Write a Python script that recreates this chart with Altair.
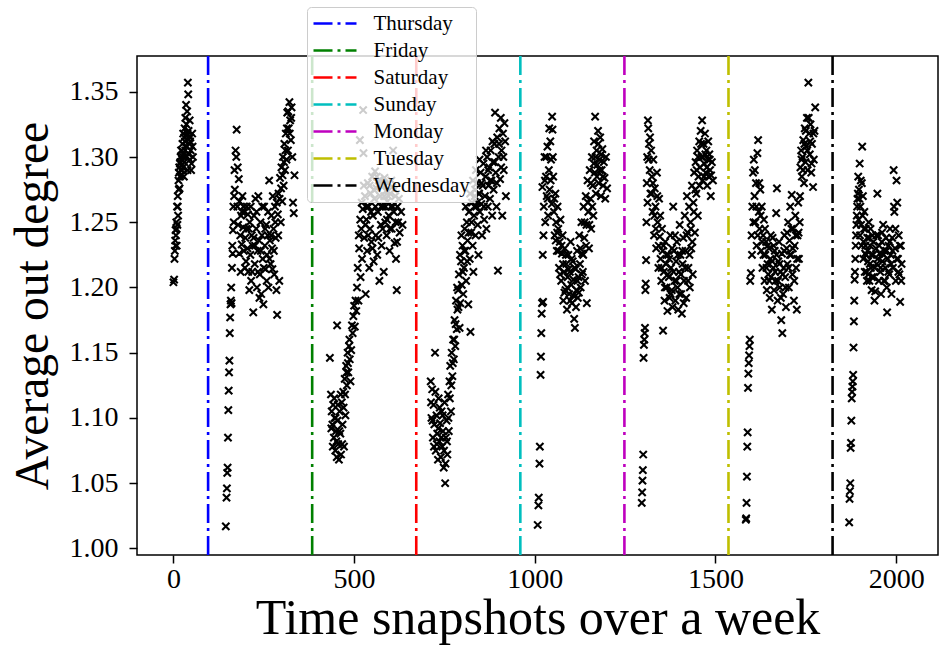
import altair as alt
import pandas as pd

# ---- scatter data: (time snapshot, average out degree) ----
seg_1 = [(0,1.204),(2,1.206),(4,1.228),(5,1.236),(6,1.244),(7,1.240),(8,1.250),(9,1.232),(10,1.262),(11,1.248),
         (12,1.270),(13,1.255),(14,1.282),(15,1.288),(16,1.292),(17,1.276),(18,1.285),(19,1.296),(20,1.300),(21,1.290),
         (22,1.286),(23,1.305),(24,1.298),(25,1.310),(26,1.292),(27,1.318),(28,1.302),(29,1.285),(30,1.296),(31,1.322),
         (32,1.312),(33,1.330),(34,1.300),(35,1.340),(36,1.316),(37,1.308),(38,1.335),(39,1.290),(40,1.357),(41,1.348),
         (42,1.320),(44,1.310),(45,1.328),(46,1.298),(47,1.315),(48,1.305),(50,1.295),(52,1.318),(54,1.300)]
seg_1b = [(3,1.222),(6,1.232),(9,1.245),(12,1.262),(15,1.275),(18,1.295),(21,1.305),(24,1.290),(27,1.300),(30,1.315),
          (33,1.305),(36,1.325),(39,1.318),(43,1.302),(46,1.312),(49,1.290),(53,1.308)]

seg_2 = [(145,1.017),(147,1.039),(148,1.046),(149,1.058),(150,1.062),(151,1.085),(152,1.106),(153,1.121),(154,1.135),
         (155,1.144),(156,1.165),(157,1.177),(158,1.187),(159,1.190),(160,1.200),(161,1.188),(162,1.215),(163,1.232),
         (164,1.226),(165,1.244),(166,1.262),(167,1.250),(168,1.270),(169,1.290),(170,1.275),(172,1.305),(174,1.300),
         (175,1.321),(177,1.262),(179,1.248),(181,1.283),(183,1.266),(185,1.240),(187,1.255),(189,1.233),(191,1.270),
         (193,1.246),(195,1.228),(197,1.258),(199,1.238),(201,1.220),(203,1.262),(205,1.230),(207,1.212),(209,1.245),
         (211,1.250),(213,1.225),(215,1.205),(217,1.240),(219,1.232),(221,1.181),(223,1.255),(225,1.218),(227,1.268),
         (229,1.245),(231,1.200),(233,1.228),(235,1.270),(237,1.236),(239,1.210),(241,1.250),(243,1.195),(245,1.240),
         (247,1.222),(249,1.187),(251,1.262),(253,1.232),(255,1.214),(257,1.248),(259,1.225),(261,1.240),(263,1.200),
         (265,1.282),(267,1.236),(269,1.218),(271,1.255),(273,1.230),(275,1.270),(277,1.245),(279,1.210),(281,1.262),
         (283,1.238),(285,1.198),(287,1.179),(289,1.256),(291,1.272),(293,1.205),(295,1.284),(297,1.250),(299,1.292),
         (301,1.266),(303,1.300),(305,1.278),(307,1.310),(309,1.290),(311,1.318),(313,1.298),(315,1.334),(317,1.305),
         (319,1.322),(321,1.342),(323,1.328),(325,1.313),(327,1.338),(329,1.300),(331,1.265),(333,1.257),(335,1.286)]
seg_2b = [(178,1.292),(182,1.226),(186,1.212),(190,1.258),(194,1.262),(198,1.215),(202,1.245),(206,1.256),(210,1.198),
          (214,1.262),(218,1.212),(222,1.238),(226,1.232),(230,1.258),(234,1.212),(238,1.192),(242,1.228),(246,1.262),
          (250,1.215),(254,1.245),(258,1.205),(262,1.258),(266,1.222),(270,1.240),(274,1.214),(278,1.228),(282,1.250),
          (286,1.265),(290,1.240),(294,1.268),(298,1.276),(302,1.286),(306,1.296),(310,1.305),(314,1.322),(318,1.335),
          (322,1.318),(326,1.330)]

seg_3 = [(433,1.146),(436,1.118),(438,1.105),(440,1.095),(442,1.110),(444,1.085),(446,1.100),(448,1.075),(450,1.090),
         (452,1.070),(453,1.171),(454,1.098),(456,1.080),(458,1.068),(460,1.105),(462,1.088),(464,1.072),(466,1.112),
         (468,1.095),(470,1.120),(472,1.078),(474,1.130),(476,1.102),(478,1.140),(480,1.125),(482,1.150),(484,1.135),
         (486,1.155),(488,1.145),(490,1.128),(492,1.152),(494,1.171),(496,1.165),(498,1.178),(500,1.186),(502,1.170),
         (504,1.190),(506,1.182),(508,1.200),(510,1.215),(512,1.190),(514,1.230),(516,1.313),(518,1.208),(520,1.245),
         (522,1.222),(524,1.260),(525,1.336),(526,1.303),(528,1.238),(530,1.270),(532,1.195),(534,1.252),(536,1.228),
         (538,1.280),(540,1.262),(542,1.215),(544,1.245),(546,1.272),(548,1.235),(550,1.285),(552,1.255),(554,1.220),
         (556,1.268),(558,1.289),(560,1.240),(562,1.276),(564,1.225),(566,1.258),(568,1.282),(570,1.205),(572,1.270),
         (574,1.248),(576,1.232),(578,1.278),(580,1.262),(582,1.212),(584,1.284),(586,1.250),(588,1.274),(590,1.240),
         (592,1.266),(594,1.280),(596,1.255),(598,1.228),(600,1.272),(602,1.262),(604,1.245),(606,1.277),(608,1.305),
         (610,1.258),(612,1.234),(614,1.270),(616,1.222),(618,1.198),(620,1.262),(622,1.250),(626,1.242),(630,1.258),
         (634,1.248)]
seg_3b = [(437,1.092),(441,1.078),(445,1.115),(449,1.100),(451,1.082),(455,1.110),(459,1.090),(463,1.118),(467,1.080),
          (471,1.108),(475,1.118),(479,1.135),(483,1.142),(487,1.160),(513,1.240),(517,1.252),(521,1.265),(527,1.278),
          (531,1.248),(535,1.262),(539,1.240),(543,1.278),(547,1.258),(551,1.230),(555,1.275),(559,1.262),(563,1.285),
          (567,1.238),(571,1.282),(575,1.262),(579,1.245),(583,1.270),(587,1.262),(591,1.252),(595,1.270),(599,1.245),
          (603,1.282),(607,1.262),(611,1.275),(615,1.250),(619,1.235),(624,1.268)]

seg_4 = [(712,1.128),(714,1.100),(716,1.122),(718,1.085),(720,1.110),(722,1.095),(724,1.150),(726,1.075),(728,1.102),
         (730,1.088),(732,1.068),(734,1.115),(736,1.082),(738,1.096),(740,1.070),(742,1.105),(744,1.078),(746,1.090),
         (748,1.062),(750,1.112),(752,1.050),(754,1.085),(756,1.098),(758,1.072),(760,1.118),(762,1.090),(764,1.128),
         (766,1.140),(768,1.105),(770,1.150),(772,1.132),(774,1.160),(776,1.145),(778,1.175),(780,1.155),(782,1.190),
         (784,1.168),(786,1.183),(788,1.198),(790,1.210),(792,1.169),(794,1.188),(796,1.220),(798,1.202),(800,1.232),
         (802,1.195),(804,1.215),(806,1.245),(808,1.228),(810,1.205),(812,1.250),(814,1.236),(816,1.187),(818,1.258),
         (820,1.222),(822,1.166),(824,1.242),(826,1.265),(828,1.232),(830,1.212),(832,1.255),(834,1.270),(835,1.275),
         (836,1.240),(838,1.262),(840,1.280),(842,1.248),(844,1.225),(845,1.272),(846,1.272),(848,1.258),(850,1.288),
         (852,1.264),(854,1.240),(856,1.278),(858,1.295),(860,1.252),(862,1.270),(864,1.285),(866,1.245),(868,1.300),
         (870,1.262),(872,1.278),(874,1.292),(876,1.268),(878,1.305),(880,1.282),(882,1.255),(884,1.296),(886,1.275),
         (888,1.310),(890,1.334),(892,1.288),(894,1.262),(896,1.315),(898,1.213),(900,1.300),(902,1.322),(904,1.283),
         (906,1.330),(908,1.305),(910,1.255),(912,1.318),(914,1.290),(916,1.326),(918,1.312),(920,1.270)]
seg_4b = [(713,1.112),(717,1.098),(721,1.078),(725,1.120),(729,1.080),(733,1.092),(737,1.108),(741,1.085),(745,1.102),
          (749,1.075),(753,1.065),(757,1.082),(761,1.100),(765,1.115),(769,1.125),(773,1.142),(777,1.160),(781,1.172),
          (785,1.200),(789,1.185),(793,1.225),(797,1.240),(801,1.212),(805,1.228),(809,1.262),(813,1.220),(817,1.242),
          (821,1.272),(825,1.250),(829,1.282),(833,1.262),(837,1.290),(841,1.265),(847,1.298),(853,1.280),(859,1.262),
          (865,1.305),(871,1.290),(877,1.282),(883,1.312),(889,1.296),(895,1.280),(901,1.310),(907,1.292),(913,1.300)]

seg_5 = [(1008,1.018),(1010,1.033),(1011,1.039),(1013,1.065),(1014,1.078),(1016,1.133),(1017,1.147),(1018,1.165),
         (1019,1.180),(1020,1.188),(1021,1.277),(1022,1.225),(1023,1.189),(1025,1.262),(1027,1.300),(1029,1.250),
         (1031,1.285),(1033,1.270),(1035,1.308),(1037,1.255),(1039,1.290),(1041,1.275),(1043,1.312),(1045,1.298),
         (1047,1.264),(1048,1.331),(1049,1.321),(1051,1.285),(1053,1.258),(1055,1.240),(1057,1.272),(1059,1.250),
         (1061,1.228),(1063,1.262),(1065,1.245),(1067,1.215),(1069,1.235),(1071,1.252),(1073,1.205),(1075,1.226),
         (1077,1.240),(1079,1.190),(1081,1.212),(1083,1.230),(1085,1.198),(1087,1.218),(1089,1.183),(1091,1.208),
         (1093,1.225),(1095,1.195),(1097,1.212),(1099,1.235),(1101,1.202),(1103,1.188),(1105,1.220),(1107,1.206),
         (1109,1.176),(1111,1.169),(1113,1.214),(1115,1.198),(1117,1.228),(1119,1.192),(1121,1.208),(1123,1.240),
         (1125,1.218),(1127,1.200),(1129,1.250),(1131,1.226),(1133,1.212),(1135,1.262),(1137,1.238),(1139,1.205),
         (1141,1.270),(1143,1.248),(1144,1.188),(1146,1.282),(1148,1.258),(1150,1.230),(1152,1.290),(1154,1.268),
         (1156,1.245),(1158,1.300),(1160,1.278),(1162,1.255),(1164,1.312),(1166,1.288),(1167,1.331),(1169,1.272),
         (1171,1.305),(1173,1.294),(1175,1.320),(1177,1.280),(1179,1.298),(1181,1.315),(1183,1.270),(1185,1.290),
         (1187,1.306),(1189,1.278),(1191,1.296),(1193,1.284),(1195,1.268),(1197,1.300),(1200,1.276)]
seg_5b = [(1024,1.240),(1028,1.282),(1032,1.300),(1036,1.268),(1040,1.322),(1044,1.282),(1050,1.300),(1054,1.268),
          (1058,1.236),(1062,1.242),(1066,1.228),(1070,1.210),(1074,1.232),(1078,1.218),(1082,1.196),(1086,1.225),
          (1090,1.200),(1094,1.214),(1098,1.190),(1102,1.222),(1106,1.194),(1110,1.215),(1114,1.185),(1118,1.205),
          (1122,1.196),(1126,1.230),(1130,1.210),(1134,1.225),(1138,1.250),(1142,1.232),(1147,1.265),(1151,1.248),
          (1155,1.280),(1159,1.262),(1163,1.295),(1168,1.300),(1172,1.285),(1176,1.310),(1180,1.290),(1184,1.302),
          (1188,1.285)]

seg_6 = [(1296,1.035),(1297,1.043),(1298,1.052),(1299,1.060),(1300,1.072),(1301,1.146),(1302,1.156),(1303,1.160),
         (1304,1.165),(1305,1.169),(1306,1.198),(1307,1.203),(1308,1.221),(1309,1.250),(1310,1.280),(1311,1.300),
         (1312,1.265),(1313,1.328),(1314,1.322),(1316,1.310),(1318,1.290),(1320,1.272),(1322,1.305),(1324,1.285),
         (1326,1.258),(1328,1.298),(1330,1.240),(1332,1.276),(1334,1.262),(1336,1.230),(1338,1.288),(1340,1.250),
         (1342,1.215),(1344,1.268),(1346,1.239),(1348,1.222),(1350,1.205),(1352,1.245),(1354,1.228),(1355,1.167),
         (1357,1.212),(1359,1.190),(1361,1.235),(1363,1.218),(1365,1.200),(1367,1.182),(1369,1.225),(1371,1.208),
         (1373,1.192),(1375,1.240),(1377,1.215),(1379,1.198),(1381,1.185),(1383,1.262),(1385,1.228),(1387,1.205),
         (1389,1.190),(1391,1.220),(1393,1.235),(1395,1.200),(1397,1.183),(1399,1.212),(1401,1.248),(1403,1.225),
         (1405,1.195),(1407,1.180),(1409,1.218),(1411,1.238),(1413,1.205),(1415,1.255),(1417,1.228),(1419,1.192),
         (1421,1.270),(1423,1.242),(1425,1.215),(1427,1.262),(1429,1.200),(1431,1.250),(1433,1.230),(1435,1.278),
         (1437,1.210),(1439,1.265),(1441,1.288),(1443,1.242),(1445,1.296),(1447,1.272),(1449,1.305),(1451,1.255),
         (1453,1.285),(1455,1.312),(1457,1.292),(1459,1.320),(1461,1.300),(1463,1.328),(1465,1.282),(1467,1.310),
         (1469,1.295),(1471,1.318),(1473,1.288),(1475,1.305),(1477,1.278),(1479,1.298),(1481,1.285),(1483,1.302),
         (1485,1.290),(1487,1.270),(1490,1.296),(1493,1.282)]
seg_6b = [(1315,1.298),(1319,1.315),(1323,1.272),(1327,1.280),(1331,1.255),(1335,1.245),(1339,1.270),(1343,1.232),
          (1347,1.255),(1351,1.215),(1356,1.232),(1360,1.200),(1364,1.225),(1368,1.210),(1372,1.222),(1376,1.195),
          (1380,1.230),(1384,1.212),(1388,1.240),(1392,1.205),(1396,1.225),(1400,1.195),(1404,1.210),(1408,1.228),
          (1412,1.188),(1416,1.215),(1420,1.240),(1424,1.205),(1428,1.225),(1432,1.245),(1436,1.235),(1440,1.258),
          (1444,1.275),(1448,1.290),(1452,1.300),(1456,1.278),(1460,1.310),(1464,1.300),(1468,1.285),(1472,1.302),
          (1476,1.292),(1480,1.312),(1484,1.298),(1488,1.286)]

seg_7 = [(1584,1.022),(1585,1.023),(1586,1.035),(1587,1.055),(1588,1.078),(1589,1.089),(1590,1.123),(1591,1.134),
         (1592,1.142),(1593,1.148),(1594,1.155),(1595,1.160),(1596,1.205),(1598,1.211),(1600,1.240),(1602,1.262),
         (1604,1.288),(1606,1.298),(1608,1.270),(1610,1.250),(1612,1.280),(1614,1.232),(1616,1.303),(1618,1.313),
         (1620,1.258),(1622,1.245),(1624,1.275),(1626,1.228),(1628,1.262),(1630,1.215),(1632,1.240),(1634,1.252),
         (1636,1.205),(1638,1.225),(1640,1.235),(1642,1.198),(1644,1.218),(1646,1.210),(1648,1.230),(1650,1.192),
         (1652,1.222),(1654,1.208),(1656,1.183),(1658,1.238),(1660,1.215),(1662,1.198),(1664,1.228),(1666,1.205),
         (1668,1.257),(1670,1.276),(1672,1.190),(1674,1.220),(1676,1.235),(1678,1.200),(1680,1.212),(1682,1.175),
         (1684,1.226),(1685,1.165),(1687,1.195),(1689,1.215),(1691,1.240),(1693,1.208),(1695,1.185),(1697,1.230),
         (1699,1.218),(1701,1.250),(1703,1.200),(1705,1.236),(1707,1.262),(1709,1.225),(1711,1.271),(1713,1.210),
         (1715,1.245),(1717,1.190),(1719,1.232),(1721,1.255),(1723,1.215),(1725,1.183),(1727,1.240),(1729,1.265),
         (1731,1.222),(1733,1.250),(1735,1.292),(1737,1.305),(1739,1.285),(1741,1.300),(1743,1.313),(1745,1.280),
         (1747,1.322),(1749,1.296),(1751,1.308),(1753,1.330),(1755,1.290),(1757,1.357),(1759,1.318),(1761,1.302),
         (1763,1.325),(1765,1.288),(1767,1.310),(1770,1.277),(1772,1.298),(1774,1.320),(1776,1.338)]
seg_7b = [(1601,1.225),(1605,1.250),(1609,1.290),(1613,1.262),(1617,1.240),(1621,1.280),(1625,1.255),(1629,1.235),
          (1633,1.225),(1637,1.245),(1641,1.215),(1645,1.232),(1649,1.205),(1653,1.240),(1657,1.220),(1661,1.232),
          (1665,1.212),(1669,1.225),(1673,1.205),(1677,1.218),(1681,1.192),(1686,1.210),(1690,1.228),(1694,1.200),
          (1698,1.242),(1702,1.215),(1706,1.225),(1710,1.245),(1714,1.230),(1718,1.205),(1722,1.240),(1726,1.222),
          (1730,1.242),(1734,1.270),(1738,1.298),(1742,1.290),(1746,1.310),(1750,1.320),(1754,1.305),(1758,1.330),
          (1762,1.312),(1766,1.295),(1771,1.318)]

seg_8 = [(1870,1.020),(1871,1.038),(1872,1.044),(1873,1.050),(1874,1.077),(1875,1.081),(1876,1.098),(1877,1.115),
         (1878,1.120),(1879,1.124),(1880,1.128),(1881,1.133),(1882,1.154),(1883,1.174),(1885,1.206),(1887,1.222),
         (1889,1.240),(1891,1.255),(1893,1.268),(1895,1.285),(1897,1.275),(1899,1.295),(1901,1.262),(1903,1.248),
         (1905,1.280),(1906,1.308),(1908,1.270),(1910,1.235),(1912,1.258),(1914,1.226),(1916,1.245),(1918,1.212),
         (1920,1.238),(1922,1.220),(1924,1.250),(1926,1.205),(1928,1.232),(1930,1.215),(1932,1.198),(1934,1.240),
         (1936,1.225),(1938,1.208),(1940,1.190),(1942,1.197),(1944,1.230),(1946,1.218),(1948,1.272),(1950,1.240),
         (1952,1.205),(1954,1.226),(1956,1.212),(1958,1.195),(1960,1.235),(1962,1.220),(1964,1.248),(1966,1.205),
         (1968,1.228),(1970,1.215),(1972,1.238),(1974,1.200),(1975,1.181),(1977,1.222),(1979,1.232),(1981,1.210),
         (1983,1.245),(1985,1.225),(1987,1.195),(1989,1.238),(1991,1.215),(1993,1.290),(1995,1.258),(1997,1.230),
         (1999,1.205),(2001,1.282),(2003,1.265),(2005,1.222),(2007,1.240),(2009,1.210),(2011,1.189),(2013,1.232),
         (2015,1.218)]
seg_8b = [(1884,1.190),(1886,1.212),(1888,1.232),(1890,1.248),(1892,1.262),(1894,1.272),(1896,1.252),(1898,1.268),
          (1900,1.240),(1902,1.282),(1904,1.232),(1907,1.255),(1909,1.222),(1911,1.245),(1913,1.212),(1915,1.232),
          (1917,1.225),(1919,1.205),(1921,1.228),(1923,1.210),(1925,1.238),(1927,1.218),(1929,1.245),(1931,1.225),
          (1933,1.208),(1937,1.235),(1941,1.215),(1945,1.240),(1949,1.222),(1953,1.232),(1957,1.215),(1961,1.242),
          (1965,1.225),(1969,1.205),(1973,1.228),(1978,1.212),(1982,1.235),(1986,1.218),(1990,1.228),(1994,1.262),
          (1998,1.245),(2002,1.222),(2006,1.212),(2010,1.232),(2014,1.205)]

# ---- day boundary lines ----
days = ["Thursday", "Friday", "Saturday", "Sunday", "Monday", "Tuesday", "Wednesday"]
day_starts = [96, 384, 672, 960, 1248, 1536, 1824]
day_colors = ["#0000ff", "#008000", "#ff0000", "#00bfbf", "#bf00bf", "#bfbf00", "#000000"]

x_ticks = [0, 500, 1000, 1500, 2000]
y_ticks = [1.00, 1.05, 1.10, 1.15, 1.20, 1.25, 1.30, 1.35]

segments = [seg_1, seg_1b, seg_2, seg_2b, seg_3, seg_3b, seg_4, seg_4b,
            seg_5, seg_5b, seg_6, seg_6b, seg_7, seg_7b, seg_8, seg_8b]
pts = pd.DataFrame([{"t": t, "deg": d} for seg in segments for t, d in seg])
lines = pd.DataFrame({"day": days, "t": day_starts})

FONT = "Liberation Serif"
DASH = [19, 5, 3, 5]

xscale = alt.Scale(domain=[-100.75, 2115.75], nice=False, zero=False)
yscale = alt.Scale(domain=[0.995, 1.3774], nice=False, zero=False)

x_axis = alt.Axis(
    values=x_ticks, format="d", title="Time snapshots over a week", grid=False, domain=False,
    labelFont=FONT, labelFontSize=28, labelColor="black", labelPadding=2,
    tickColor="black", tickSize=8, tickWidth=1.5,
    titleFont=FONT, titleFontSize=50, titleFontWeight="normal", titleColor="black",
    titleX=400.5, titleY=78, titleAlign="center", titleBaseline="alphabetic",
)
y_axis = alt.Axis(
    values=y_ticks, format=".2f", title="Average out degree", grid=False, domain=False,
    labelFont=FONT, labelFontSize=28, labelColor="black", labelPadding=11,
    tickColor="black", tickSize=8, tickWidth=1.5,
    titleFont=FONT, titleFontSize=47.5, titleFontWeight="normal", titleColor="black",
    titleAngle=270, titleX=-90, titleY=249.5, titleAlign="center", titleBaseline="alphabetic",
)

XPATH = "M-1,-1L1,1M-1,1L1,-1"

points = alt.Chart(pts).mark_point(
    shape=XPATH, filled=False, stroke="black", strokeWidth=2.1, size=52, opacity=1
).encode(
    x=alt.X("t:Q", scale=xscale, axis=x_axis),
    y=alt.Y("deg:Q", scale=yscale, axis=y_axis),
)

rules = alt.Chart(lines).mark_rule(strokeWidth=2.6, strokeDash=DASH).encode(
    x=alt.X("t:Q", scale=xscale),
    color=alt.Color(
        "day:N",
        scale=alt.Scale(domain=days, range=day_colors),
        sort=days,
        legend=alt.Legend(
            title=None, orient="none", legendX=170, legendY=-49,
            symbolType="M-4.3,0L4.3,0", symbolSize=100, symbolStrokeWidth=2.6,
            symbolDash=DASH, symbolOffset=11.5, labelOffset=28,
            labelFont=FONT, labelFontSize=21, labelColor="black",
            rowPadding=5, padding=6, fillColor="rgba(255,255,255,0.8)",
            strokeColor="#cccccc", cornerRadius=4,
        ),
    ),
)

chart = alt.layer(points, rules).properties(
    width=801, height=499,
    autosize=alt.AutoSizeParams(type="none"),
    padding={"left": 137, "top": 56, "right": 1, "bottom": 92},
    background="white",
).configure_view(stroke="black", strokeWidth=1.5, fill="white")

chart.save("out.html", embed_options={"renderer": "svg", "actions": False})
